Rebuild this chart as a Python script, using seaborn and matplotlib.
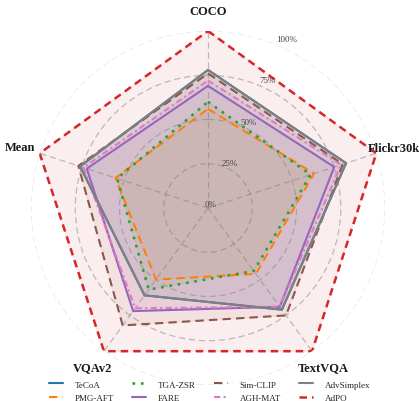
import numpy as np
import matplotlib
matplotlib.use("Agg")
import matplotlib.pyplot as plt
import matplotlib.transforms as mtransforms
import pandas as pd
import seaborn as sns

# Benchmarks on the radar axes
categories = ["COCO", "Flickr30k", "TextVQA", "VQAv2", "Mean"]
methods = ["TeCoA", "PMG-AFT", "TGA-ZSR", "FARE", "Sim-CLIP", "AGH-MAT", "AdvSimplex", "AdPO"]

# Relative scores (%) per method, one value per benchmark
tecoa = [78, 82, 71, 61, 76]
pmg_aft = [56, 63, 46, 50, 55]
tga_zsr = [60, 61, 44, 57, 54]
fare = [69, 75, 69, 72, 72]
sim_clip = [76, 80, 75, 82, 77]
agh_mat = [72, 79, 69, 70, 74]
adv_simplex = [78, 82, 71, 61, 76]
adpo = [100, 100, 100, 100, 100]

r_ticks = [0, 25, 50, 75, 100]
r_tick_labels = ["0%", "25%", "50%", "75%", "100%"]

scores = [tecoa, pmg_aft, tga_zsr, fare, sim_clip, agh_mat, adv_simplex, adpo]

sns.set_theme(style="white")
plt.rcParams["font.family"] = ["Liberation Serif", "DejaVu Serif"]

palette = sns.color_palette("tab10")
colors = {
    "TeCoA": palette[0], "PMG-AFT": palette[1], "TGA-ZSR": palette[2],
    "FARE": palette[4], "Sim-CLIP": palette[5], "AGH-MAT": palette[6],
    "AdvSimplex": palette[7], "AdPO": palette[3],
}
styles = {
    "TeCoA": "-", "PMG-AFT": (0, (4, 2.5)), "TGA-ZSR": (0, (1, 2.2)),
    "FARE": "-", "Sim-CLIP": (0, (4, 2.5)), "AGH-MAT": (0, (3, 1.6, 1, 1.6)),
    "AdvSimplex": "-", "AdPO": (0, (3, 2)),
}
widths = {m: 1.5 for m in methods}
widths["AdPO"] = 1.8
widths["TGA-ZSR"] = 1.9

n = len(categories)
angles = np.linspace(0, 2 * np.pi, n, endpoint=False)
closed_angles = np.append(angles, angles[0] + 2 * np.pi)

rows = []
for m, vals in zip(methods, scores):
    for i, (a, v) in enumerate(zip(closed_angles, vals + vals[:1])):
        rows.append({"method": m, "theta": a, "score": v, "order": i})
df = pd.DataFrame(rows)

fig = plt.figure(figsize=(4.19, 4.02), dpi=100)
ax = fig.add_axes([0.0740, 0.0398, 0.8449, 0.8806], projection="polar")
ax.set_theta_offset(np.pi / 2)
ax.set_theta_direction(-1)
ax.set_ylim(0, 100)

for m in methods:
    sub = df[df["method"] == m].sort_values("order")
    ax.fill(sub["theta"], sub["score"], color=colors[m], alpha=0.08, zorder=1)
    sns.lineplot(data=sub, x="theta", y="score", sort=False, estimator=None,
                 ax=ax, color=colors[m], linestyle=styles[m],
                 linewidth=widths[m], label=m, legend=False, zorder=3)

# Grid: dashed rings and spokes
ax.set_xticks(angles)
ax.set_xticklabels([])
ax.set_yticks(r_ticks)
ax.set_yticklabels([])
ax.set_axisbelow("line")
ax.grid(True, color="grey", alpha=0.5, linestyle=(0, (5, 3)), linewidth=0.9)
ax.yaxis.get_gridlines()[-1].set_alpha(0.22)
ax.spines["polar"].set_visible(False)
ax.set_xlabel("")
ax.set_ylabel("")

# Benchmark names around the chart
label_r = [111.5, 110.3, 111.0, 111.0, 111.5]
for a, name, rr in zip(angles, categories, label_r):
    ax.text(a, rr, name, ha="center", va="center", fontsize=9,
            fontweight="bold", color="#1a1a1a", clip_on=False)

# Radial percentage labels
lab_theta = np.deg2rad(24.7)
lab_tr = mtransforms.offset_copy(ax.transData, fig=fig, x=3, y=4, units="dots")
for v, lab in zip(r_ticks, r_tick_labels):
    ax.text(lab_theta, v * 1.026, lab, transform=lab_tr, ha="center",
            va="center", fontsize=6.5, color="#444444", clip_on=False)

handles, labels = ax.get_legend_handles_labels()
fig.legend(handles, labels, loc="upper center", bbox_to_anchor=(0.5, 0.072),
           ncol=4, frameon=False, fontsize=6.5, handlelength=1.6,
           handletextpad=1.3, columnspacing=1.95, labelspacing=0.6,
           borderpad=0.4)

fig.savefig("out.png", dpi=100)
